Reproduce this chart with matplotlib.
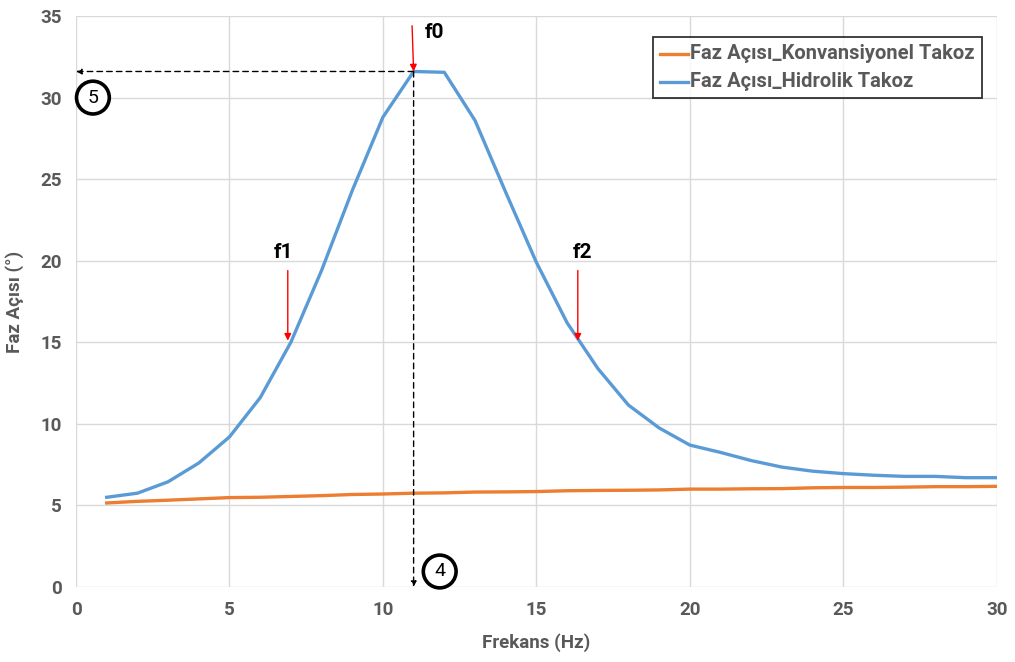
import matplotlib.pyplot as plt
from matplotlib.ticker import MultipleLocator

plt.rcParams['font.family'] = ['Roboto', 'DejaVu Sans']

freq = list(range(1, 31))
faz_konvansiyonel = [5.15, 5.25, 5.32, 5.40, 5.48, 5.50, 5.55, 5.60, 5.67, 5.70,
                     5.75, 5.77, 5.82, 5.83, 5.85, 5.90, 5.92, 5.93, 5.95, 6.00,
                     6.00, 6.02, 6.03, 6.08, 6.10, 6.10, 6.12, 6.15, 6.15, 6.17]
faz_hidrolik = [5.50, 5.75, 6.45, 7.60, 9.20, 11.60, 15.00, 19.40, 24.30, 28.80,
                31.60, 31.55, 28.60, 24.20, 19.90, 16.20, 13.40, 11.15, 9.75, 8.70,
                8.25, 7.75, 7.35, 7.10, 6.95, 6.85, 6.78, 6.78, 6.70, 6.70]

# resonance and half-power points
f0, f0_val = 11.0, 31.6
f1, f2, f12_val = 6.9, 16.35, 15.1

gray = '#595959'

fig = plt.figure(figsize=(10.15, 6.62), dpi=100)
ax = fig.add_axes([0.0749, 0.1133, 0.9071, 0.8625])

ax.plot(freq, faz_konvansiyonel, color='#ED7D31', lw=2.4, label='Faz Açısı_Konvansiyonel Takoz')
ax.plot(freq, faz_hidrolik, color='#5B9BD5', lw=2.4, label='Faz Açısı_Hidrolik Takoz')

ax.set_xlim(0, 30)
ax.set_ylim(0, 35)
ax.xaxis.set_major_locator(MultipleLocator(5))
ax.yaxis.set_major_locator(MultipleLocator(5))
ax.grid(True, color='#d9d9d9', lw=1)
ax.set_axisbelow(True)
for s in ax.spines.values():
    s.set_visible(False)
ax.tick_params(length=0, colors=gray, labelsize=13.5, pad=10)
for lbl in ax.get_xticklabels() + ax.get_yticklabels():
    lbl.set_fontweight('bold')

ax.set_xlabel('Frekans (Hz)', fontsize=13.5, fontweight='bold', color=gray, labelpad=10)
ax.set_ylabel('Faz Açısı (°)', fontsize=13.5, fontweight='bold', color=gray, labelpad=12)

# dashed guides from the peak to the axes
dash = dict(arrowstyle='-|>', color='black', lw=1, linestyle=(0, (4, 3)),
            mutation_scale=8, shrinkA=0, shrinkB=0)
ax.annotate('', xy=(0, f0_val), xytext=(f0, f0_val), arrowprops=dash)
ax.annotate('', xy=(f0, 0), xytext=(f0, f0_val), arrowprops=dash)

red = dict(arrowstyle='-|>', color='red', lw=1, mutation_scale=10, shrinkA=0, shrinkB=0)
ax.annotate('', xy=(f0, f0_val), xytext=(f0 - 0.05, 34.4), arrowprops=red)
ax.annotate('', xy=(f1, f12_val), xytext=(f1, 19.4), arrowprops=red)
ax.annotate('', xy=(f2, f12_val), xytext=(f2, 19.4), arrowprops=red)

lab = dict(fontsize=15, fontweight='bold', color='black')
ax.text(f0 + 0.35, 34.0, 'f0', ha='left', va='center', **lab)
ax.text(6.75, 20.5, 'f1', ha='center', va='center', **lab)
ax.text(16.5, 20.5, 'f2', ha='center', va='center', **lab)

circ = dict(boxstyle='circle,pad=0.38', fc='white', ec='black', lw=2.6)
ax.text(0.55, 30.0, '5', fontsize=14, ha='center', va='center', bbox=circ)
ax.text(11.85, 0.95, '4', fontsize=14, ha='center', va='center', bbox=circ)

leg = ax.legend(loc='upper right', bbox_to_anchor=(0.992, 0.976), frameon=True,
                fancybox=False, edgecolor='black', handlelength=2.0, handletextpad=0.15,
                borderpad=0.55, labelspacing=0.6)
leg.get_frame().set_linewidth(1.3)
for t in leg.get_texts():
    t.set_fontsize(14.5)
    t.set_fontweight('bold')
    t.set_color(gray)

fig.savefig('out.png', dpi=100)
